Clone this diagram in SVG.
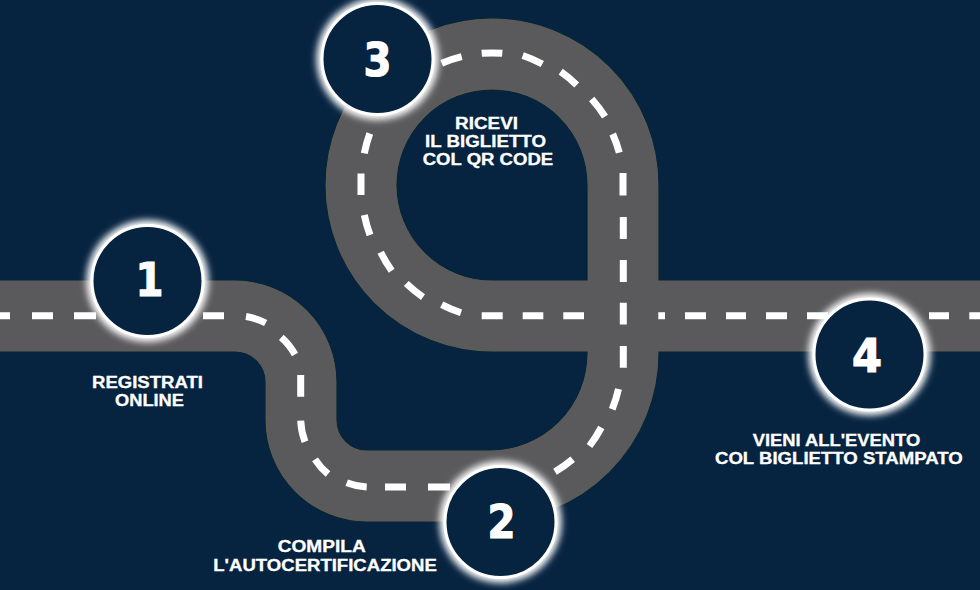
<svg xmlns="http://www.w3.org/2000/svg" width="980" height="590" viewBox="0 0 980 590">
<defs>
<filter id="glow" x="-30%" y="-30%" width="160%" height="160%"><feGaussianBlur stdDeviation="3.5"/></filter>
<path id="road" d="M-5,316 H235 A66,66 0 0 1 301,382 V420 A66,66 0 0 0 367,486 H490 A133,133 0 0 0 623,353 V185 A131,131 0 0 0 361,185 A131,131 0 0 0 492,316 H985"/>
</defs>
<style>
.edge{fill:none;stroke:#5d6340;stroke-width:70.8}
.road{fill:none;stroke:#5a5a5c;stroke-width:70}
.dash{fill:none;stroke:#fff;stroke-width:7}
.halo{fill:#fff;filter:url(#glow)}
.disc{fill:#062340;stroke:#fff;stroke-width:3}
.num{font-family:"DejaVu Sans","Liberation Sans",sans-serif;font-weight:700;font-size:46px;fill:#fff;stroke:#fff;stroke-width:1.2;text-anchor:middle}
.lbl{font-family:"Liberation Sans",Arial,sans-serif;font-weight:700;font-size:15.8px;fill:#fff;stroke:#fff;stroke-width:.3}
</style>
<rect width="980" height="590" fill="#062340"/>
<g id="connectors">
<use href="#road" class="edge"/>
<use href="#road" class="road"/>
<path class="dash" d="M0,315.7H10 M32,315.7H53 M74,315.7H96 M203,315.7H224
M246,316.5A66,66 0 0 1 265.7,323 M281.3,337.3A66,66 0 0 1 295,354.5 M300.7,375V396.7
M300.7,420.7A66,66 0 0 0 305,441.7 M315,459.3A66,66 0 0 0 328,474 M346.7,482.7A66,66 0 0 0 366.7,487
M385,487H406 M428,487H450
M555,471.7A133,133 0 0 0 572.7,459.3 M589.5,446A133,133 0 0 0 601.3,427.5 M612.2,409.3A133,133 0 0 0 618.5,389 M623.3,367.7V346
M623.3,324.5V302.8 M623.3,282V260 M623.3,239V217 M623,195.5V173
M619.3,152.7A131,131 0 0 0 612.7,134 M605,116.7A131,131 0 0 0 591.7,99 M576.7,85A131,131 0 0 0 560.7,71.7 M542.3,64A131,131 0 0 0 522.7,55.5 M502.3,53.3A131,131 0 0 0 481.7,53.3 M461.7,56.7A131,131 0 0 0 441.7,63.3
M369.8,133.5A131,131 0 0 0 364.3,153.3 M361,173.5V195 M364.3,215A131,131 0 0 0 370,235 M380.7,252.3A131,131 0 0 0 391.7,270.7 M406.3,283.6A131,131 0 0 0 423,297.2 M441.7,304.6A131,131 0 0 0 461,312.8
M481.7,315.7H502.7 M522.7,315.7H543.3 M563.3,315.7H584
M658.3,315.7H665 M685,315.7H706 M726,315.7H746 M766,315.7H787 M807,315.7H828 M929,315.7H949 M969.3,315.7H980"/>
</g>
<g id="node-1"><circle class="halo" cx="147.5" cy="281" r="61"/><circle class="disc" cx="147.5" cy="281" r="55.5"/><text class="num" x="149.5" y="295.5" textLength="28" lengthAdjust="spacingAndGlyphs">1</text></g>
<g id="node-2"><circle class="halo" cx="500.5" cy="522" r="61"/><circle class="disc" cx="500.5" cy="522" r="55.5"/><text class="num" x="501.5" y="537.5" textLength="28" lengthAdjust="spacingAndGlyphs">2</text></g>
<g id="node-3"><circle class="halo" cx="377.5" cy="59" r="61"/><circle class="disc" cx="377.5" cy="59" r="55.5"/><text class="num" x="377.5" y="76" textLength="28" lengthAdjust="spacingAndGlyphs">3</text></g>
<g id="node-4"><circle class="halo" cx="869.5" cy="354.5" r="61"/><circle class="disc" cx="869.5" cy="354.5" r="55.5"/><text class="num" x="867" y="371.5" textLength="30" lengthAdjust="spacingAndGlyphs">4</text></g>
<g id="labels">
<text class="lbl" x="92" y="387.7" textLength="111" lengthAdjust="spacingAndGlyphs">REGISTRATI</text>
<text class="lbl" x="115" y="405.7" textLength="69" lengthAdjust="spacingAndGlyphs">ONLINE</text>
<text class="lbl" x="277.7" y="551.7" textLength="88" lengthAdjust="spacingAndGlyphs">COMPILA</text>
<text class="lbl" x="213.3" y="570.7" textLength="223.5" lengthAdjust="spacingAndGlyphs">L'AUTOCERTIFICAZIONE</text>
<text class="lbl" x="455" y="129" textLength="63" lengthAdjust="spacingAndGlyphs">RICEVI</text>
<text class="lbl" x="425" y="147" textLength="121" lengthAdjust="spacingAndGlyphs">IL BIGLIETTO</text>
<text class="lbl" x="422.7" y="165" textLength="130.5" lengthAdjust="spacingAndGlyphs">COL QR CODE</text>
<text class="lbl" x="752.7" y="445.7" textLength="167.5" lengthAdjust="spacingAndGlyphs">VIENI ALL'EVENTO</text>
<text class="lbl" x="715" y="463.7" textLength="247.7" lengthAdjust="spacingAndGlyphs">COL BIGLIETTO STAMPATO</text>
</g>
</svg>
